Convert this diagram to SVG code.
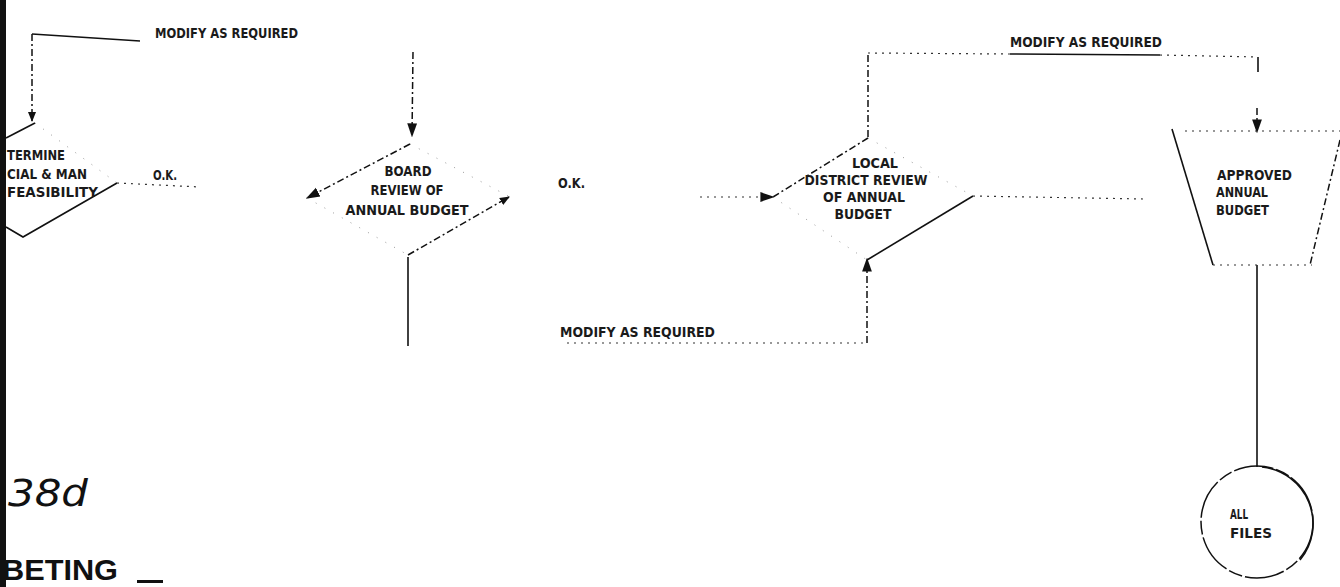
<svg xmlns="http://www.w3.org/2000/svg" width="1340" height="587" viewBox="0 0 1340 587">
<style>
  .t { font-family: "Liberation Sans Narrow","DejaVu Sans Condensed","Liberation Sans",sans-serif; font-size: 14px; font-weight: bold; fill: #1a1a1a; }
  .s { fill: none; stroke: #111; stroke-width: 1.6; }
  .d { fill: none; stroke: #111; stroke-width: 1.5; stroke-dasharray: 7 3 2 3; }
  .o { fill: none; stroke: #333; stroke-width: 1.2; stroke-dasharray: 2 5; }
  .f { fill: none; stroke: #999; stroke-width: 1; stroke-dasharray: 1 9; }
</style>
<defs>
  <marker id="ah" viewBox="0 0 10 10" refX="9" refY="5" markerWidth="10" markerHeight="10" markerUnits="userSpaceOnUse" orient="auto">
    <path d="M0,1 L10,5 L0,9 Z" fill="#111"/>
  </marker>
  <marker id="ahb" viewBox="0 0 10 10" refX="9" refY="5" markerWidth="14" markerHeight="14" markerUnits="userSpaceOnUse" orient="auto">
    <path d="M0,1.5 L10,5 L0,8.5 Z" fill="#111"/>
  </marker>
</defs>
<rect width="1340" height="587" fill="#fff"/>

<g id="connectors">
  <path class="s" d="M140,41 L32,34"/>
  <path class="d" d="M32,34 L32,121" marker-end="url(#ah)"/>
  <path class="o" d="M117,183 L200,187"/>
  <path class="d" d="M413,52 L412,136" marker-end="url(#ahb)"/>
  <path class="s" d="M408,257 L408,346"/>
  <path class="o" d="M567,343 L867,343"/>
  <path class="d" d="M867,343 L867,259" marker-end="url(#ahb)"/>
  <path class="o" d="M700,197 L773,197" marker-end="url(#ahb)"/>
  <path class="o" d="M973,196 L1143,199"/>
  <path class="d" d="M868,137 L868,53"/>
  <path class="o" d="M868,53 L1010,54"/>
  <path class="s" d="M1010,54 L1160,55" stroke-width="1"/>
  <path class="o" d="M1160,55 L1258,57"/>
  <path class="s" d="M1258,57 L1258,72"/>
  <path class="d" d="M1257,108 L1257,132" marker-end="url(#ahb)"/>
  <path class="s" d="M1257,265 L1257,467" stroke-width="2"/>
</g>

<g id="determine">
  <path class="s" d="M6,138 L35,123"/>
  <path class="f" d="M35,123 L117,183"/>
  <path class="s" d="M117,183 L23,237 L6,227"/>
  <text class="t" x="7" y="160" textLength="58" lengthAdjust="spacingAndGlyphs">TERMINE</text>
  <text class="t" x="7" y="179" textLength="80" lengthAdjust="spacingAndGlyphs">CIAL &amp; MAN</text>
  <text class="t" x="7" y="197" textLength="91" lengthAdjust="spacingAndGlyphs">FEASIBILITY</text>
  <text class="t" x="153" y="180" textLength="24" lengthAdjust="spacingAndGlyphs">O.K.</text>
</g>

<g id="board">
  <path class="d" d="M410,144 L307,198" marker-end="url(#ahb)"/>
  <path class="f" d="M410,144 L510,197"/>
  <path class="d" d="M408,255 L509,197" marker-end="url(#ah)"/>
  <path class="f" d="M307,198 L408,255"/>
  <text class="t" x="408" y="176" text-anchor="middle" textLength="47" lengthAdjust="spacingAndGlyphs">BOARD</text>
  <text class="t" x="407" y="195" text-anchor="middle" textLength="73" lengthAdjust="spacingAndGlyphs">REVIEW OF</text>
  <text class="t" x="407" y="215" text-anchor="middle" textLength="123" lengthAdjust="spacingAndGlyphs">ANNUAL BUDGET</text>
  <text class="t" x="558" y="188" textLength="27" lengthAdjust="spacingAndGlyphs">O.K.</text>
</g>

<g id="local">
  <path class="d" d="M773,197 L868,138"/>
  <path class="f" d="M868,138 L973,196"/>
  <path class="s" d="M867,260 L973,196" stroke-width="1.3"/>
  <path class="f" d="M773,197 L867,260"/>
  <text class="t" x="875" y="168" text-anchor="middle" textLength="46" lengthAdjust="spacingAndGlyphs">LOCAL</text>
  <text class="t" x="866" y="185" text-anchor="middle" textLength="123" lengthAdjust="spacingAndGlyphs">DISTRICT REVIEW</text>
  <text class="t" x="864" y="202" text-anchor="middle" textLength="82" lengthAdjust="spacingAndGlyphs">OF ANNUAL</text>
  <text class="t" x="863" y="219" text-anchor="middle" textLength="57" lengthAdjust="spacingAndGlyphs">BUDGET</text>
</g>

<g id="approved">
  <path class="s" d="M1172,129 L1213,265"/>
  <path class="o" d="M1185,131 L1340,131"/>
  <path class="d" d="M1340,140 L1310,265" stroke-width="1"/>
  <path class="o" d="M1213,265 L1312,265"/>
  <text class="t" x="1217" y="180" textLength="75" lengthAdjust="spacingAndGlyphs">APPROVED</text>
  <text class="t" x="1216" y="197" textLength="52" lengthAdjust="spacingAndGlyphs">ANNUAL</text>
  <text class="t" x="1216" y="215" textLength="53" lengthAdjust="spacingAndGlyphs">BUDGET</text>
</g>

<g id="allfiles">
  <circle cx="1257" cy="522" r="56" fill="none" stroke="#111" stroke-width="1.5" stroke-dasharray="40 3 14 3"/>
  <path class="s" d="M1262,467 A57,57 0 0 1 1300,560" stroke-width="1"/>
  <text class="t" x="1230" y="519" textLength="18" lengthAdjust="spacingAndGlyphs">ALL</text>
  <text class="t" x="1230" y="538" textLength="42" lengthAdjust="spacingAndGlyphs">FILES</text>
</g>

<g id="labels">
  <text class="t" x="155" y="38" textLength="143" lengthAdjust="spacingAndGlyphs">MODIFY AS REQUIRED</text>
  <text class="t" x="1010" y="47" textLength="152" lengthAdjust="spacingAndGlyphs">MODIFY AS REQUIRED</text>
  <text class="t" x="560" y="337" textLength="155" lengthAdjust="spacingAndGlyphs">MODIFY AS REQUIRED</text>
  <text x="8" y="506" font-family="DejaVu Sans, sans-serif" font-weight="200" font-style="italic" font-size="38" fill="#111" textLength="80" lengthAdjust="spacingAndGlyphs">38d</text>
  <text x="2" y="580" font-family="Liberation Sans Narrow, Liberation Sans, sans-serif" font-weight="bold" font-size="30" fill="#111" textLength="116" lengthAdjust="spacingAndGlyphs">BETING</text>
  <rect x="137" y="580" width="26" height="3" fill="#111"/>
</g>

<rect id="binding" x="0" y="0" width="6" height="587" fill="#111"/>
</svg>
